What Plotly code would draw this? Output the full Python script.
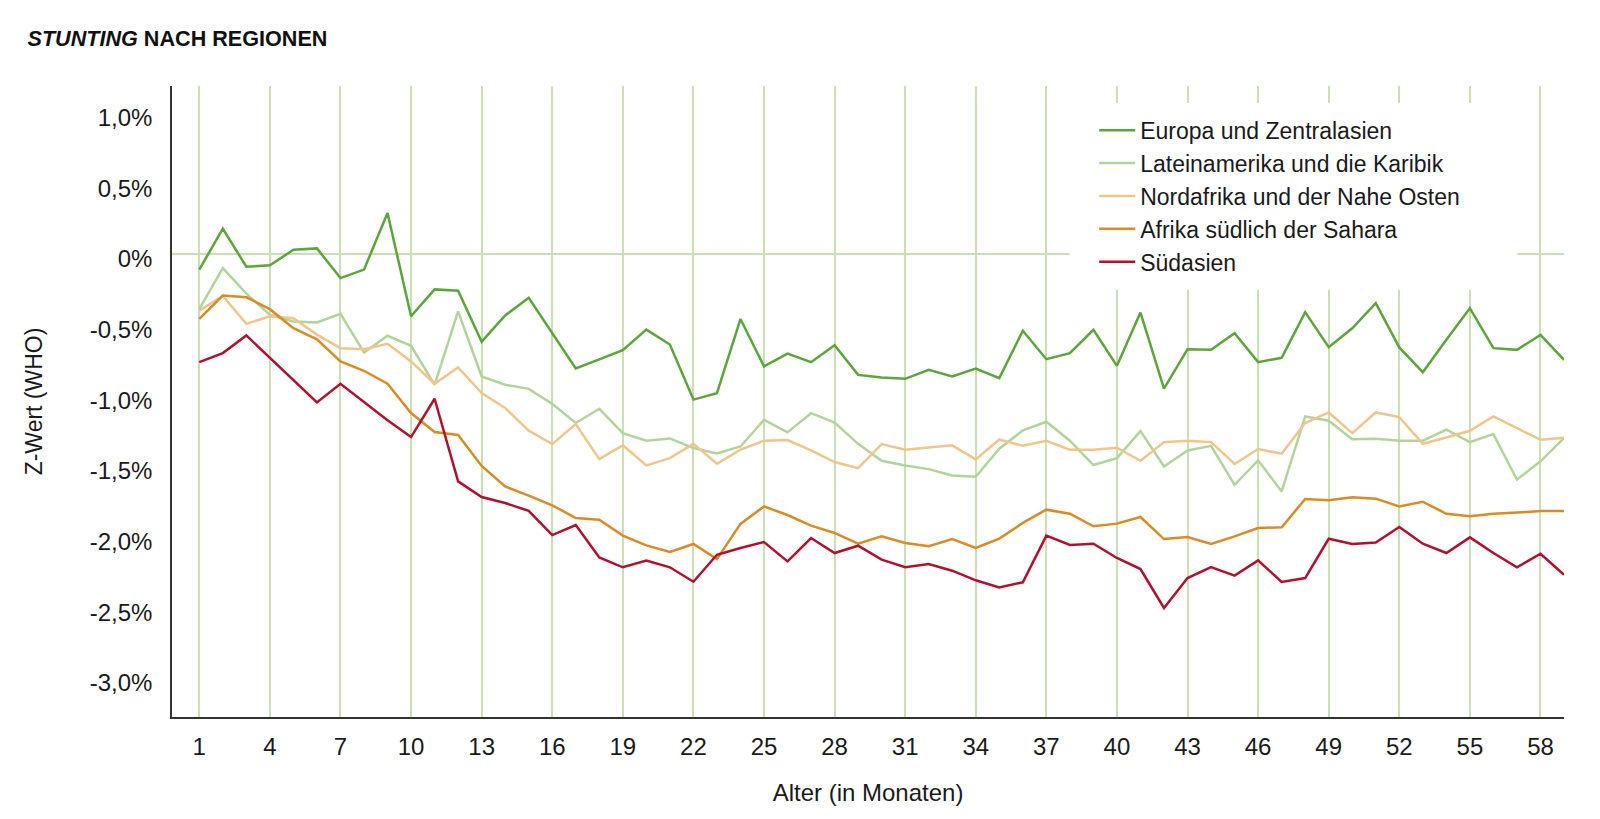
import plotly.graph_objects as go

months = list(range(1, 60))

europa = [
    -0.11, 0.18, -0.09, -0.08, 0.03, 0.04, -0.17, -0.11, 0.29, -0.44,
    -0.25, -0.26, -0.62, -0.435, -0.31, -0.56, -0.81, -0.745, -0.68, -0.535,
    -0.64, -1.03, -0.985, -0.46, -0.795, -0.705, -0.765, -0.645, -0.855, -0.873,
    -0.883, -0.82, -0.866, -0.81, -0.878, -0.543, -0.744, -0.701, -0.536, -0.791,
    -0.414, -0.953, -0.673, -0.678, -0.56, -0.765, -0.734, -0.411, -0.659, -0.525,
    -0.348, -0.661, -0.836, -0.607, -0.383, -0.666, -0.678, -0.572, -0.749]

lateinamerika = [
    -0.39, -0.10, -0.28, -0.43, -0.477, -0.484, -0.423, -0.696, -0.578, -0.649,
    -0.925, -0.406, -0.866, -0.925, -0.954, -1.06, -1.196, -1.095, -1.267, -1.321,
    -1.305, -1.373, -1.411, -1.362, -1.173, -1.262, -1.126, -1.192, -1.343, -1.463,
    -1.496, -1.522, -1.567, -1.576, -1.378, -1.248, -1.187, -1.321, -1.493, -1.444,
    -1.253, -1.503, -1.39, -1.357, -1.633, -1.46, -1.68, -1.149, -1.18, -1.31,
    -1.307, -1.321, -1.321, -1.243, -1.331, -1.274, -1.597, -1.467, -1.302]

nordafrika = [
    -0.40, -0.296, -0.494, -0.44, -0.454, -0.57, -0.666, -0.673, -0.635, -0.76,
    -0.918, -0.802, -0.984, -1.09, -1.25, -1.345, -1.203, -1.451, -1.354, -1.496,
    -1.444, -1.343, -1.484, -1.385, -1.321, -1.316, -1.39, -1.472, -1.515, -1.345,
    -1.385, -1.371, -1.354, -1.453, -1.312, -1.357, -1.321, -1.385, -1.385, -1.371,
    -1.463, -1.331, -1.321, -1.331, -1.486, -1.38, -1.413, -1.196, -1.121, -1.267,
    -1.121, -1.154, -1.343, -1.298, -1.251, -1.149, -1.232, -1.314, -1.30]

afrika_sahara = [
    -0.459, -0.294, -0.305, -0.39, -0.525, -0.603, -0.76, -0.826, -0.918, -1.125,
    -1.26, -1.28, -1.5, -1.645, -1.71, -1.778, -1.868, -1.88, -1.993, -2.062,
    -2.109, -2.052, -2.159, -1.91, -1.786, -1.847, -1.922, -1.974, -2.05, -1.998,
    -2.045, -2.068, -2.017, -2.08, -2.014, -1.903, -1.809, -1.838, -1.927, -1.908,
    -1.861, -2.017, -2.002, -2.052, -1.998, -1.939, -1.934, -1.734, -1.743, -1.722,
    -1.731, -1.786, -1.753, -1.838, -1.856, -1.838, -1.83, -1.819, -1.819]

suedasien = [
    -0.765, -0.701, -0.576, -0.736, -0.89, -1.05, -0.918, -1.05, -1.177, -1.295,
    -1.024, -1.609, -1.72, -1.762, -1.817, -1.989, -1.918, -2.147, -2.217, -2.17,
    -2.217, -2.319, -2.128, -2.08, -2.038, -2.175, -2.01, -2.116, -2.064, -2.163,
    -2.217, -2.194, -2.241, -2.309, -2.359, -2.323, -1.993, -2.059, -2.05, -2.151,
    -2.229, -2.505, -2.293, -2.215, -2.276, -2.168, -2.321, -2.293, -2.015, -2.052,
    -2.041, -1.932, -2.05, -2.116, -2.005, -2.116, -2.217, -2.121, -2.27]

series_names = ["Europa und Zentralasien", "Lateinamerika und die Karibik",
                "Nordafrika und der Nahe Osten", "Afrika südlich der Sahara", "Südasien"]
series_values = [europa, lateinamerika, nordafrika, afrika_sahara, suedasien]
series_colors = ["#5ca53a", "#b1d49a", "#f0c58c", "#d98b26", "#b0122d"]

x_tickvals = list(range(1, 60, 3))
y_tickvals = [1.0, 0.5, 0.0, -0.5, -1.0, -1.5, -2.0, -2.5, -3.0]
y_ticktext = ["1,0%", "0,5%", "0%", "-0,5%", "-1,0%", "-1,5%", "-2,0%", "-2,5%", "-3,0%"]

FONT = "Liberation Sans, Arial, sans-serif"
GRID = "#c9e0b4"

fig = go.Figure()
for name, vals, col in zip(series_names, series_values, series_colors):
    fig.add_trace(go.Scatter(x=months, y=vals, mode="lines", name=name,
                             line=dict(color=col, width=2.5)))

# white backdrop behind the legend, hiding the gridlines there
fig.add_shape(type="rect", xref="paper", yref="paper",
              x0=0.6449, x1=0.9666, y0=0.677, y1=0.9731,
              fillcolor="white", line=dict(width=0), layer="above")

fig.update_layout(
    width=1584, height=803,
    margin=dict(l=164, r=27.5, t=78, b=93.5, autoexpand=False),
    paper_bgcolor="white", plot_bgcolor="white",
    font=dict(family=FONT, size=24, color="#1a1a1a"),
    title=dict(text="<b><i>STUNTING</i> NACH REGIONEN</b>",
               font=dict(family=FONT, size=21.6, color="#111"),
               xref="container", yref="container", x=19.5 / 1584, xanchor="left",
               y=1 - 30 / 803, yanchor="middle"),
    showlegend=True,
    legend=dict(x=0.6625, xanchor="left", y=0.964, yanchor="top",
                bgcolor="rgba(0,0,0,0)", borderwidth=0,
                font=dict(family=FONT, size=23, color="#1a1a1a"),
                itemwidth=36, tracegroupgap=0),
    xaxis=dict(range=[-0.16, 59], tickvals=x_tickvals, showgrid=True,
               gridcolor=GRID, gridwidth=1.5, zeroline=False,
               showline=True, linecolor="#333", linewidth=1.5,
               ticks="", ticklabelstandoff=7, automargin=False,
               tickfont=dict(size=24, family=FONT, color="#1a1a1a"),
               title=dict(text="Alter (in Monaten)", standoff=26,
                          font=dict(size=24, family=FONT, color="#1a1a1a"))),
    yaxis=dict(range=[-3.2765, 1.1895], tickvals=y_tickvals, ticktext=y_ticktext,
               showgrid=False, zeroline=True, zerolinecolor=GRID, zerolinewidth=1.5,
               showline=True, linecolor="#333", linewidth=1.5,
               ticks="", ticklabelstandoff=13, ticklabelshift=5, automargin=False,
               tickfont=dict(size=24, family=FONT, color="#1a1a1a"),
               title=dict(text="Z-Wert (WHO)", standoff=41,
                          font=dict(size=23, family=FONT, color="#1a1a1a"))),
)

fig.write_html("out.html", config={"displayModeBar": False})
